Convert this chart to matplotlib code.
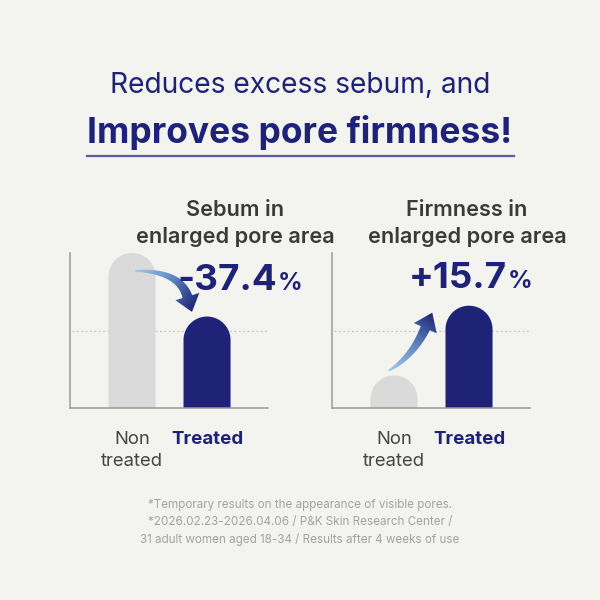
import numpy as np
import matplotlib
matplotlib.use("Agg")
import matplotlib.pyplot as plt
from matplotlib.patches import Polygon
from matplotlib.colors import LinearSegmentedColormap

# ---------------- data ----------------
categories = ["Non\ntreated", "Treated"]
sebum_values = [100, 59]
firmness_values = [21, 66]
reference_level = 50
sebum_change = "-37.4"
firmness_change = "+15.7"
title_line1 = "Reduces excess sebum, and"
title_line2 = "Improves pore firmness!"
panel_titles = ["Sebum in\nenlarged pore area", "Firmness in\nenlarged pore area"]
footnotes = ["*Temporary results on the appearance of visible pores.",
             "*2026.02.23-2026.04.06 / P&K Skin Research Center /",
             "31 adult women aged 18-34 / Results after 4 weeks of use"]

# ---------------- style ----------------
BG = "#f3f3ef"
NAVY = "#1f2378"
GRAY_BAR = "#dadada"
DARK = "#3a3a3a"
FONT = ["Inter", "DejaVu Sans"]
plt.rcParams["font.family"] = FONT

W = H = 600
fig = plt.figure(figsize=(6, 6), dpi=100, facecolor=BG)

def fx(px):
    return px / W

def fy(py):
    return 1 - py / H

# titles
fig.text(fx(300), fy(93), title_line1, ha="center", va="baseline",
         fontsize=20.3, color=NAVY)
fig.text(fx(300), fy(143), title_line2, ha="center", va="baseline",
         fontsize=25.5, fontweight="bold", color=NAVY)
fig.add_artist(matplotlib.lines.Line2D([fx(87), fx(514)], [fy(156), fy(156)],
                                       color="#5a5fa6", lw=1.6))

arrow_cmap = LinearSegmentedColormap.from_list("arr", ["#a4c9ea", "#5d86bf", NAVY])


def gradient_arrow(ax, tail, tip, ctrl_frac, head_len, head_w, w0, w1):
    """Draw a tapered curved arrow with a gradient between two data points."""
    T = ax.transData
    p0 = T.transform(tail)
    p2 = T.transform(tip)
    c = np.array([p0[0] + ctrl_frac[0] * (p2[0] - p0[0]),
                  p0[1] + ctrl_frac[1] * (p2[1] - p0[1])])
    d = p2 - c
    d = d / np.hypot(*d)
    base = p2 - head_len * d
    t = np.linspace(0, 1, 60)[:, None]
    pts = (1 - t) ** 2 * p0 + 2 * (1 - t) * t * c + t ** 2 * base
    der = 2 * (1 - t) * (c - p0) + 2 * t * (base - c)
    der = der / np.hypot(der[:, 0], der[:, 1])[:, None]
    nrm = np.column_stack([-der[:, 1], der[:, 0]])
    widths = (w0 + (w1 - w0) * t[:, 0] ** 0.8)[:, None] / 2
    left = pts + nrm * widths
    right = pts - nrm * widths
    n_end = np.array([-d[1], d[0]])
    head = [base + n_end * head_w / 2, p2, base - n_end * head_w / 2]
    poly_disp = np.vstack([left, head, right[::-1]])
    poly = T.inverted().transform(poly_disp)
    patch = Polygon(poly, closed=True, facecolor="none", edgecolor="none")
    ax.add_patch(patch)
    xmin, ymin = poly.min(axis=0)
    xmax, ymax = poly.max(axis=0)
    gx, gy = np.meshgrid(np.linspace(xmin, xmax, 120), np.linspace(ymin, ymax, 120))
    disp = T.transform(np.column_stack([gx.ravel(), gy.ravel()]))
    v = p2 - p0
    proj = ((disp - p0) @ v) / (v @ v)
    proj = np.clip(proj, 0, 1).reshape(gx.shape)
    im = ax.imshow(proj, cmap=arrow_cmap, extent=[xmin, xmax, ymin, ymax],
                   origin="lower", aspect="auto", vmin=0, vmax=1, zorder=4,
                   interpolation="bilinear")
    im.set_clip_path(patch)


def draw_panel(rect, values, colors):
    ax = fig.add_axes(rect)
    ax.set_facecolor("none")
    x = np.arange(len(values))
    ax.set_xlim(-0.827, 1.813)
    ax.set_ylim(0, 100)
    bw = 0.627
    p00 = ax.transData.transform((0, 0))
    p11 = ax.transData.transform((1, 1))
    px_per_x = p11[0] - p00[0]
    px_per_y = p11[1] - p00[1]
    rx = bw / 2
    ry = rx * px_per_x / px_per_y
    ang = np.linspace(0, np.pi, 60)
    for xi, v, col in zip(x, values, colors):
        arc = np.column_stack([xi + rx * np.cos(ang), (v - ry) + ry * np.sin(ang)])
        pts = np.vstack([[xi + rx, 0], arc, [xi - rx, 0]])
        ax.add_patch(Polygon(pts, closed=True, facecolor=col, edgecolor="none",
                             zorder=2))
    ax.axhline(reference_level, xmin=0.01, color="#c8c8c4", lw=0.9,
               ls=(0, (1.5, 2)), zorder=1)
    for s in ["top", "right"]:
        ax.spines[s].set_visible(False)
    for s in ["left", "bottom"]:
        ax.spines[s].set_color("#9a9a96")
        ax.spines[s].set_linewidth(1.1)
    ax.set_xticks([])
    ax.set_yticks([])
    return ax, x

# left panel
axL, xL = draw_panel([fx(70), fy(408), fx(198), 155 / H], sebum_values, [GRAY_BAR, NAVY])
gradient_arrow(axL, (0.04, sebum_values[0] - 11.5), (0.80, sebum_values[1] + 3),
               (0.78, 0.0), head_len=16, head_w=25, w0=1.5, w1=10)
# right panel
axR, xR = draw_panel([fx(332), fy(408), fx(198), 155 / H], firmness_values, [GRAY_BAR, NAVY])
gradient_arrow(axR, (-0.07, firmness_values[0] + 3), (0.51, firmness_values[1] - 4.5),
               (0.55, 0.25), head_len=17, head_w=25, w0=1.5, w1=10)

# panel titles
for cx, ttl in [(235, panel_titles[0]), (467, panel_titles[1])]:
    l1, l2 = ttl.split("\n")
    fig.text(fx(cx), fy(210), l1, ha="center", va="center", fontsize=15.6,
             fontweight="semibold", color=DARK)
    fig.text(fx(cx), fy(237), l2, ha="center", va="center", fontsize=15.6,
             fontweight="semibold", color=DARK)

# big numbers
for rx_, by, num in [(277, 290, sebum_change), (507, 288, firmness_change)]:
    fig.text(fx(rx_), fy(by), num, ha="right", va="baseline", fontsize=26.5,
             fontweight="bold", color=NAVY)
    fig.text(fx(rx_ + 1), fy(by), "%", ha="left", va="baseline", fontsize=17.5,
             fontweight="bold", color=NAVY)

# category labels
for ax, xs in [(axL, xL), (axR, xR)]:
    for xi, cat in zip(xs, categories):
        px = ax.transData.transform((xi, 0))[0]
        if cat.startswith("Non"):
            fig.text(px / W, fy(440), "Non", ha="center", va="center",
                     fontsize=13.3, color="#454545")
            fig.text(px / W, fy(462), "treated", ha="center", va="center",
                     fontsize=13.3, color="#454545")
        else:
            fig.text(px / W, fy(440), cat, ha="center", va="center",
                     fontsize=13.5, fontweight="bold", color=NAVY)

# footnotes
for i, line in enumerate(footnotes):
    fig.text(fx(300), fy(505 + 17.5 * i), line, ha="center", va="center",
             fontsize=8.4, color="#a3a3a0")

fig.savefig("out.png", dpi=100, facecolor=BG)
